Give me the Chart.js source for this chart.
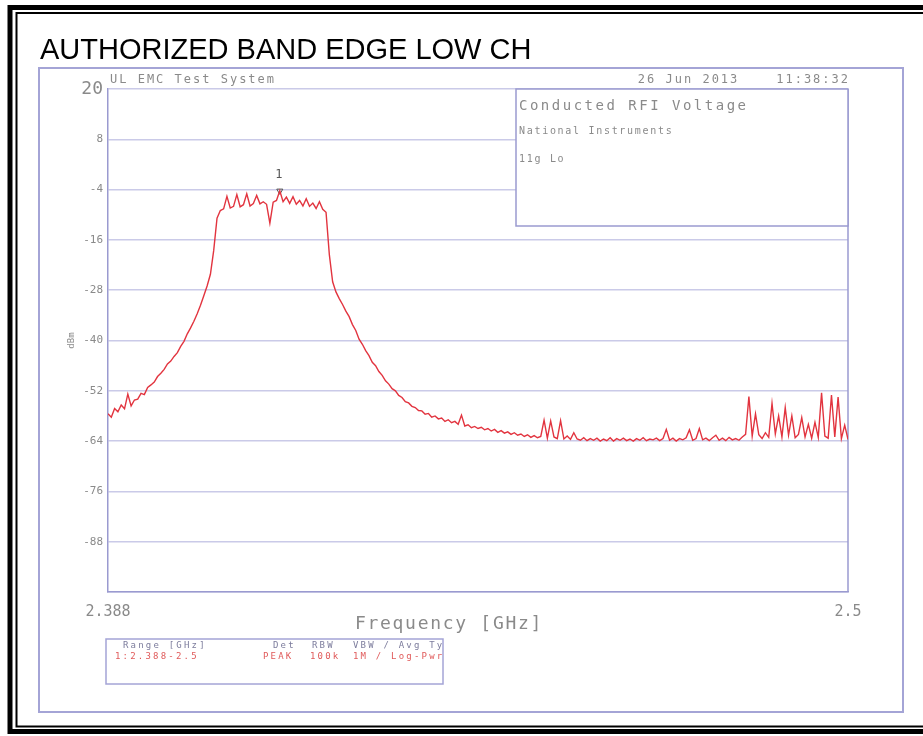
<!DOCTYPE html>
<html>
<head>
<meta charset="utf-8">
<script src="https://cdn.jsdelivr.net/npm/chart.js@4/dist/chart.umd.min.js"></script>
<style>
  html, body { margin: 0; padding: 0; background: #fff; }
  canvas { display: block; }
</style>
</head>
<body>
<canvas id="c" width="923" height="736"></canvas>
<script>
// ---------------- DATA ----------------
const chartTitle = "AUTHORIZED BAND EDGE LOW CH";
const headerLeft = "UL EMC Test System";
const headerRight = "26 Jun 2013    11:38:32";
const legendLines = ["Conducted RFI Voltage", "National Instruments", "11g Lo"];
const xAxisTitle = "Frequency [GHz]";
const yAxisTitle = "dBm";
const tableHeader = ["Range [GHz]", "Det", "RBW", "VBW / Avg Typ"];
const tableRow = ["1:2.388-2.5", "PEAK", "100k", "1M / Log-Pwr("];

// frequency of each sweep point (MHz)
const freqMHz = [
  2388,2388.5,2389,2389.5,2390,2390.5,2391,2391.5,2392,2392.5,
  2393,2393.5,2394,2394.5,2395,2395.5,2396,2396.5,2397,2397.5,
  2398,2398.5,2399,2399.5,2400,2400.5,2401,2401.5,2402,2402.5,
  2403,2403.5,2404,2404.5,2405,2405.5,2406,2406.5,2407,2407.5,
  2408,2408.5,2409,2409.5,2410,2410.5,2411,2411.5,2412,2412.5,
  2413,2413.5,2414,2414.5,2415,2415.5,2416,2416.5,2417,2417.5,
  2418,2418.5,2419,2419.5,2420,2420.5,2421,2421.5,2422,2422.5,
  2423,2423.5,2424,2424.5,2425,2425.5,2426,2426.5,2427,2427.5,
  2428,2428.5,2429,2429.5,2430,2430.5,2431,2431.5,2432,2432.5,
  2433,2433.5,2434,2434.5,2435,2435.5,2436,2436.5,2437,2437.5,
  2438,2438.5,2439,2439.5,2440,2440.5,2441,2441.5,2442,2442.5,
  2443,2443.5,2444,2444.5,2445,2445.5,2446,2446.5,2447,2447.5,
  2448,2448.5,2449,2449.5,2450,2450.5,2451,2451.5,2452,2452.5,
  2453,2453.5,2454,2454.5,2455,2455.5,2456,2456.5,2457,2457.5,
  2458,2458.5,2459,2459.5,2460,2460.5,2461,2461.5,2462,2462.5,
  2463,2463.5,2464,2464.5,2465,2465.5,2466,2466.5,2467,2467.5,
  2468,2468.5,2469,2469.5,2470,2470.5,2471,2471.5,2472,2472.5,
  2473,2473.5,2474,2474.5,2475,2475.5,2476,2476.5,2477,2477.5,
  2478,2478.5,2479,2479.5,2480,2480.5,2481,2481.5,2482,2482.5,
  2483,2483.5,2484,2484.5,2485,2485.5,2486,2486.5,2487,2487.5,
  2488,2488.5,2489,2489.5,2490,2490.5,2491,2491.5,2492,2492.5,
  2493,2493.5,2494,2494.5,2495,2495.5,2496,2496.5,2497,2497.5,
  2498,2498.5,2499,2499.5,2500
];

// measured level (dBm) at each sweep point
const levelDbm = [
  -57.5,-58.3,-56.2,-57.0,-55.4,-56.3,-52.8,-55.6,-54.2,-54.0,
  -52.6,-52.9,-51.2,-50.6,-49.9,-48.6,-47.8,-46.9,-45.6,-44.9,
  -43.8,-42.9,-41.4,-40.2,-38.4,-37.0,-35.4,-33.6,-31.6,-29.3,
  -27.0,-24.2,-18.5,-10.8,-9.0,-8.6,-5.6,-8.4,-8.0,-5.2,
  -8.1,-7.6,-5.0,-7.9,-7.3,-5.4,-7.4,-6.9,-7.5,-12.0,
  -7.0,-6.6,-4.3,-6.9,-5.8,-7.3,-5.7,-7.5,-6.6,-7.9,
  -6.2,-8.0,-7.2,-8.5,-6.9,-8.7,-9.4,-19.5,-26.0,-28.4,
  -30.0,-31.4,-33.0,-34.3,-36.2,-37.6,-39.7,-40.9,-42.4,-43.6,
  -45.2,-46.0,-47.4,-48.3,-49.6,-50.4,-51.5,-52.0,-53.1,-53.6,
  -54.6,-54.9,-55.7,-56.0,-56.7,-56.8,-57.6,-57.4,-58.3,-58.0,
  -58.7,-58.5,-59.3,-58.9,-59.6,-59.3,-60.0,-57.8,-60.4,-60.1,
  -60.8,-60.5,-61.0,-60.7,-61.3,-61.0,-61.6,-61.2,-61.9,-61.5,
  -62.1,-61.8,-62.4,-62.0,-62.6,-62.3,-62.9,-62.5,-63.1,-62.7,
  -63.2,-62.9,-59.0,-63.3,-59.2,-63.0,-63.4,-59.1,-63.5,-62.8,
  -63.6,-62.0,-63.5,-63.8,-63.2,-63.9,-63.4,-63.8,-63.3,-64.0,
  -63.5,-63.9,-63.2,-64.0,-63.4,-63.8,-63.3,-63.9,-63.5,-64.0,
  -63.4,-63.8,-63.2,-63.9,-63.5,-63.7,-63.3,-63.9,-63.4,-61.2,
  -63.8,-63.3,-64.0,-63.4,-63.7,-63.2,-61.3,-63.8,-63.4,-61.0,
  -63.7,-63.3,-63.9,-63.2,-62.6,-63.8,-63.3,-63.9,-63.1,-63.7,
  -63.4,-63.8,-63.0,-62.4,-53.4,-62.8,-57.5,-62.5,-63.4,-62.0,
  -63.1,-55.0,-62.3,-58.0,-63.0,-56.0,-62.6,-58.0,-63.2,-62.4,
  -58.4,-63.0,-60.0,-63.3,-59.5,-63.1,-52.5,-62.8,-63.3,-53.0,
  -63.0,-53.5,-63.4,-60.2,-63.6
];

// marker
const markerFreq = [2414.0];
const markerLevel = [-4.3];
const markerLabels = ["1"];

// axes
const xMin = 2388, xMax = 2500;
const xTickValues = [2388, 2500];
const xTickLabels = ["2.388", "2.5"];
const yMin = -100, yMax = 20, yStep = 12;

// ---------------- STYLE ----------------
const MONO = "'DejaVu Sans Mono', monospace";
const GREY = '#8a8a8a';
const LAV = '#a4a4d6';
const GRID = '#cacae8';

function drawText(ctx, s, x, y, font, color, ls, align, base) {
  ctx.save();
  ctx.font = font;
  ctx.fillStyle = color;
  try { ctx.letterSpacing = (ls || 0) + 'px'; } catch (e) {}
  ctx.textAlign = align || 'left';
  ctx.textBaseline = base || 'middle';
  ctx.fillText(s, x, y);
  ctx.restore();
}

const decor = {
  id: 'decor',
  beforeDraw(chart) {
    const ctx = chart.ctx;
    ctx.save();
    ctx.fillStyle = '#fff';
    ctx.fillRect(0, 0, chart.width, chart.height);
    // double black border
    ctx.strokeStyle = '#000';
    ctx.lineWidth = 5;
    ctx.strokeRect(10, 7.5, 940, 724);
    ctx.lineWidth = 2;
    ctx.strokeRect(16.5, 13, 940, 713.5);
    // lavender frame
    ctx.strokeStyle = LAV;
    ctx.lineWidth = 2;
    ctx.strokeRect(39, 68, 864, 644);
    ctx.restore();
    // title
    drawText(ctx, chartTitle, 40, 59, "29px 'Liberation Sans', Arial, sans-serif", '#000', 0, 'left', 'alphabetic');
    // header line
    drawText(ctx, headerLeft, 110, 80, '12px ' + MONO, GREY, 2, 'left');
    drawText(ctx, headerRight, 850, 80, '12px ' + MONO, GREY, 2, 'right');
    // bottom settings table
    ctx.save();
    ctx.strokeStyle = LAV;
    ctx.lineWidth = 1.5;
    ctx.strokeRect(106, 639, 337, 45);
    ctx.beginPath();
    ctx.rect(106, 639, 337, 45);
    ctx.clip();
    const hx = [123, 273, 312, 353];
    const rx = [115, 263, 310, 353];
    tableHeader.forEach((t, i) => drawText(ctx, t, hx[i], 646, '9px ' + MONO, '#7c7c9c', 2.2, 'left'));
    tableRow.forEach((t, i) => drawText(ctx, t, rx[i], 657, '9px ' + MONO, '#e05a5a', 2.2, 'left'));
    ctx.restore();
  },
  beforeDatasetsDraw(chart) {
    const ctx = chart.ctx;
    const a = chart.chartArea;
    ctx.save();
    // right border of plot
    ctx.strokeStyle = '#9a9ad0';
    ctx.lineWidth = 1.5;
    ctx.beginPath();
    ctx.moveTo(a.right, a.top);
    ctx.lineTo(a.right, a.bottom);
    ctx.stroke();
    // legend / info box
    const bx = 516, by = a.top, bw = a.right - 516, bh = 137;
    ctx.fillStyle = '#fff';
    ctx.fillRect(bx, by, bw, bh);
    ctx.strokeRect(bx, by, bw, bh);
    ctx.restore();
    drawText(ctx, legendLines[0], 519, 106, '14px ' + MONO, GREY, 2.5, 'left');
    drawText(ctx, legendLines[1], 519, 131, '10px ' + MONO, GREY, 1.7, 'left');
    drawText(ctx, legendLines[2], 519, 159, '10px ' + MONO, GREY, 1.7, 'left');
    // x axis title
    drawText(ctx, xAxisTitle, 449, 624, '18px ' + MONO, GREY, 1.7, 'center');
  },
  afterDatasetsDraw(chart) {
    const meta = chart.getDatasetMeta(1);
    meta.data.forEach((pt, i) => {
      drawText(chart.ctx, markerLabels[i], pt.x - 1, pt.y - 16, '12px ' + MONO, '#555', 0, 'center');
    });
  }
};

new Chart(document.getElementById('c'), {
  type: 'line',
  data: {
    datasets: [
      {
        data: freqMHz.map((f, i) => ({ x: f, y: levelDbm[i] })),
        borderColor: '#e2343f',
        borderWidth: 1.4,
        pointRadius: 0,
        tension: 0,
        fill: false
      },
      {
        data: markerFreq.map((f, i) => ({ x: f, y: markerLevel[i] })),
        showLine: false,
        pointStyle: 'triangle',
        rotation: 180,
        pointRadius: 3.5,
        borderColor: '#555',
        backgroundColor: 'rgba(0,0,0,0)',
        borderWidth: 1
      }
    ]
  },
  options: {
    responsive: false,
    animation: false,
    devicePixelRatio: 1,
    plugins: { legend: { display: false }, tooltip: { enabled: false } },
    layout: { padding: { left: 0, top: 89, right: 75, bottom: 0 } },
    scales: {
      x: {
        type: 'linear',
        min: xMin,
        max: xMax,
        afterFit: s => { s.height = 144; },
        afterBuildTicks: s => { s.ticks = xTickValues.map(v => ({ value: v })); },
        ticks: {
          autoSkip: false,
          maxRotation: 0,
          padding: 3,
          color: GREY,
          font: { family: MONO, size: 15 },
          callback: (v, i) => xTickLabels[i]
        },
        grid: { display: false },
        border: { display: true, color: '#9a9ad0', width: 1.5 }
      },
      y: {
        min: yMin,
        max: yMax,
        afterFit: s => { s.width = 108; },
        ticks: {
          stepSize: yStep,
          padding: 5,
          color: GREY,
          font: c => (c.tick && c.tick.value === yMax) ? { family: MONO, size: 18 } : { family: MONO, size: 11 },
          callback: v => (v === yMin ? '' : v)
        },
        grid: { color: GRID, lineWidth: 1.5, drawTicks: false },
        border: { display: true, color: '#9a9ad0', width: 1.5 },
        title: {
          display: true,
          text: yAxisTitle,
          color: GREY,
          font: { family: MONO, size: 9 },
          padding: { top: 66, bottom: 0 }
        }
      }
    }
  },
  plugins: [decor]
});
</script>
</body>
</html>
